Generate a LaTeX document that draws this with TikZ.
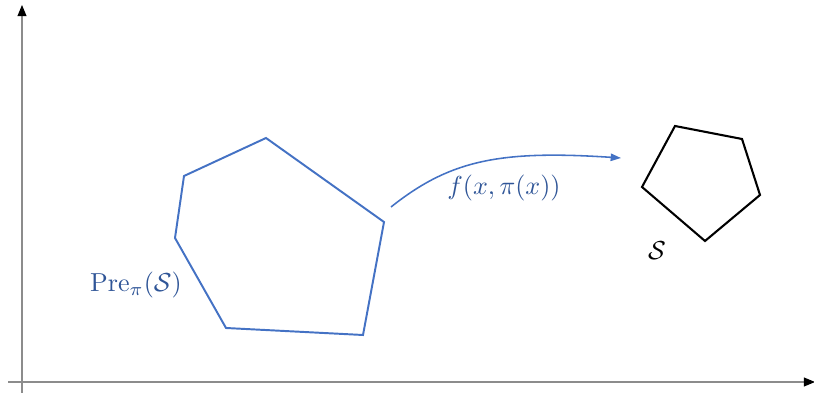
\documentclass[tikz,border=0pt]{standalone}
\usepackage{amsmath,amssymb}
\usetikzlibrary{arrows.meta}
\definecolor{setblue}{HTML}{4472C4}
\definecolor{labblue}{HTML}{2F5597}

\begin{document}
\begin{tikzpicture}[x=0.0135cm,y=-0.0135cm,
  ax/.style={draw=black!45,line width=0.45pt,-{Triangle[length=1.5mm,width=1.2mm,color=black]}},
  pb/.style={draw=setblue,line width=0.75pt,line join=miter},
  pk/.style={draw=black,line width=0.8pt,line join=miter},
  mp/.style={draw=setblue,line width=0.6pt,-{Triangle[length=1.4mm,width=1.0mm]}},
  lab/.style={font=\normalsize,inner sep=1pt}]
  \useasboundingbox (0,0) rectangle (814,397);
  % ---------- axes ----------
  \coordinate (O1) at (22,393); \coordinate (Y1) at (22,5);
  \coordinate (O2) at (8,382);  \coordinate (X1) at (815,382);
  \draw[ax] (O1) -- (Y1);
  \draw[ax] (O2) -- (X1);
  % ---------- preimage (blue) ----------
  \foreach \n/\p in {P0/{184,176},P1/{266,138},P2/{384,222},P3/{363,335},P4/{226,328},P5/{175,238}}
    \coordinate (\n) at (\p);
  \draw[pb] (P0) -- (P1) -- (P2) -- (P3) -- (P4) -- (P5) -- cycle;
  \node[lab,text=labblue] (pre) at (136,285) {$\mathrm{Pre}_{\pi}(\mathcal{S})$};
  % ---------- target set S ----------
  \foreach \n/\p in {S0/{675,126},S1/{742,139},S2/{760,195},S3/{705,241},S4/{642,187}}
    \coordinate (\n) at (\p);
  \draw[pk] (S0) -- (S1) -- (S2) -- (S3) -- (S4) -- cycle;
  \node[lab] (set) at (657,251) {$\mathcal{S}$};
  % ---------- dynamics ----------
  \coordinate (m0) at (391,207); \coordinate (m1) at (621,158);
  \draw[mp] (m0) .. controls (450,160) and (500,150) .. (m1);
  \node[lab,text=labblue] (dyn) at (504,188) {$f(x,\pi(x))$};
\end{tikzpicture}
\end{document}
